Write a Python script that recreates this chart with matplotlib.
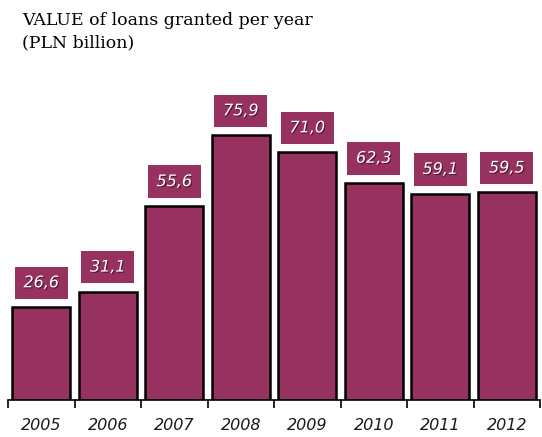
import matplotlib.pyplot as plt
import matplotlib.patheffects as pe
import numpy as np

years = ['2005', '2006', '2007', '2008', '2009', '2010', '2011', '2012']
values = [26.6, 31.1, 55.6, 75.9, 71.0, 62.3, 59.1, 59.5]

bar_color = '#963160'

fig = plt.figure(figsize=(5.42, 4.37), dpi=100)
# axes: left edge at first tick (x=8px), baseline y=400px
ax = fig.add_axes([8 / 542, 37 / 437, 532 / 542, 300 / 437])

x = np.arange(len(years))
ax.bar(x, values, width=0.87, color=bar_color, edgecolor='black', linewidth=1.8)

for xi, v in zip(x, values):
    lbl = f'{v:.1f}'.replace('.', ',')
    ax.text(xi, v + 7.0, lbl, ha='center', va='center', color='white',
            fontsize=11.5, style='italic', family='DejaVu Sans',
            bbox=dict(boxstyle='square,pad=0.55', fc=bar_color, ec='none'),
            path_effects=[pe.withSimplePatchShadow(offset=(0.8, -0.8), shadow_rgbFace='black', alpha=0.5)])

ax.set_xlim(-0.5, len(years) - 0.5)
ax.set_ylim(0, 86)

for s in ['top', 'right', 'left']:
    ax.spines[s].set_visible(False)
ax.spines['bottom'].set_linewidth(1.2)
ax.set_yticks([])

# tick marks at category boundaries, labels centered
ax.set_xticks(np.arange(len(years) + 1) - 0.5)
ax.set_xticklabels([])
ax.tick_params(axis='x', which='major', length=6, width=1.2, direction='out')
ax.set_xticks(x, minor=True)
ax.set_xticklabels(years, minor=True, fontsize=11.5, style='italic', color='#1a1a1a')
ax.tick_params(axis='x', which='minor', length=0, pad=13)

fig.text(22 / 542, 1 - 12 / 437, 'VALUE of loans granted per year\n(PLN billion)',
         ha='left', va='top', fontsize=12.5, family='DejaVu Serif', linespacing=1.4)

fig.savefig('out.png', dpi=100)
